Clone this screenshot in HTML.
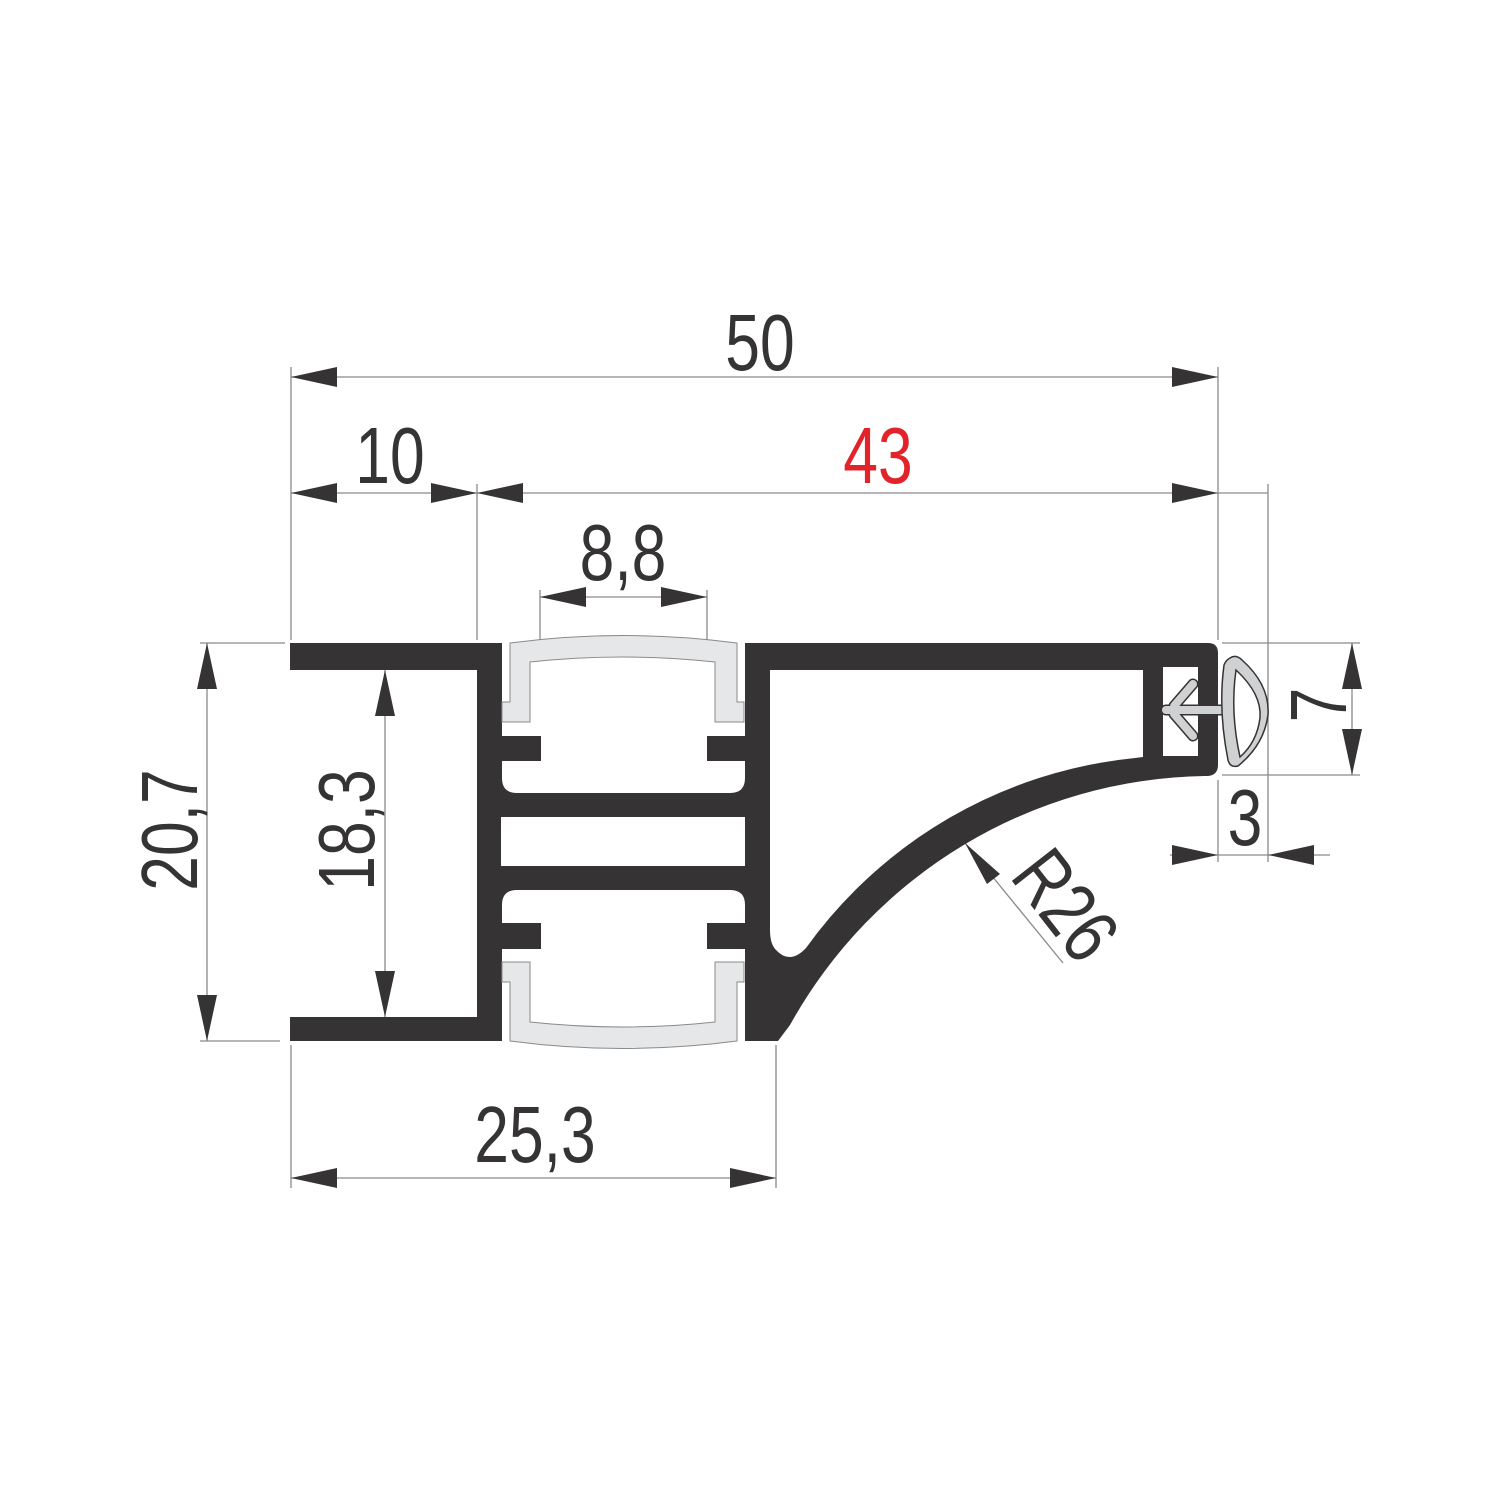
<!DOCTYPE html>
<html><head><meta charset="utf-8"><style>html,body{margin:0;padding:0;background:#fff}svg{display:block}</style></head>
<body>
<svg width="1500" height="1500" viewBox="0 0 1500 1500" xmlns="http://www.w3.org/2000/svg">
<rect width="1500" height="1500" fill="#fff"/>
<g stroke="#8a8a8a" stroke-width="1.3" fill="none">
<line x1="291" y1="367" x2="291" y2="640"/>
<line x1="1218" y1="367" x2="1218" y2="640"/>
<line x1="477" y1="484" x2="477" y2="640"/>
<line x1="1268" y1="484" x2="1268" y2="862"/>
<line x1="1218" y1="780" x2="1218" y2="862"/>
<line x1="291" y1="377" x2="1218" y2="377"/>
<line x1="291" y1="493" x2="1268" y2="493"/>
<line x1="540" y1="590" x2="540" y2="720"/>
<line x1="707" y1="590" x2="707" y2="720"/>
<line x1="540" y1="597" x2="707" y2="597"/>
<line x1="200" y1="643" x2="285" y2="643"/>
<line x1="200" y1="1041" x2="280" y2="1041"/>
<line x1="207" y1="643" x2="207" y2="1041"/>
<line x1="385" y1="670" x2="385" y2="1017"/>
<line x1="1222" y1="643" x2="1360" y2="643"/>
<line x1="1222" y1="775" x2="1360" y2="775"/>
<line x1="1352" y1="643" x2="1352" y2="775"/>
<line x1="1170" y1="855" x2="1330" y2="855"/>
<line x1="291" y1="1045" x2="291" y2="1188"/>
<line x1="776" y1="1045" x2="776" y2="1188"/>
<line x1="291" y1="1178" x2="776" y2="1178"/>
<line x1="965" y1="843" x2="1063" y2="963"/>
</g>
<g fill="#353334">
<polygon points="291,377 337,367 337,387"/>
<polygon points="1218,377 1172,367 1172,387"/>
<polygon points="291,493 337,483 337,503"/>
<polygon points="477,493 431,483 431,503"/>
<polygon points="477,493 523,483 523,503"/>
<polygon points="1218,493 1172,483 1172,503"/>
<polygon points="540,597 586,587 586,607"/>
<polygon points="707,597 661,587 661,607"/>
<polygon points="207,643 197,689 217,689"/>
<polygon points="207,1041 197,995 217,995"/>
<polygon points="385,670 375,716 395,716"/>
<polygon points="385,1017 375,971 395,971"/>
<polygon points="1352,643 1342,689 1362,689"/>
<polygon points="1352,775 1342,729 1362,729"/>
<polygon points="1218,855 1172,845 1172,865"/>
<polygon points="1268,855 1314,845 1314,865"/>
<polygon points="291,1178 337,1168 337,1188"/>
<polygon points="776,1178 730,1168 730,1188"/>
<polygon points="965,843 987,884 1000,874"/>
</g>
<g fill="#353334">
<rect x="290" y="643" width="212" height="27"/>
<rect x="290" y="1017" width="212" height="24"/>
<path d="M477,643 H1208 Q1218,643 1218,653 V765 Q1218,775 1208,776 L1205,776 A483,483 0 0 0 790,1025 L778,1041 H477 Z"/>
</g>
<g fill="#fff">
<path d="M770,670 H1143 V757 L1135,758 A461,461 0 0 0 806,948 Q790,965 776,950 Q770,944 770,930 Z"/>
<rect x="1163" y="667" width="35" height="89"/>
<path d="M502,643 H745 V778 Q745,793 730,793 H517 Q502,793 502,778 Z"/>
<path d="M502,1041 H745 V905 Q745,890 730,890 H517 Q502,890 502,905 Z"/>
<rect x="501" y="817" width="244" height="49"/>
</g>
<g fill="#353334">
<rect x="502" y="736" width="39" height="25"/>
<rect x="707" y="736" width="38" height="25"/>
<rect x="502" y="923" width="39" height="26"/>
<rect x="707" y="923" width="38" height="26"/>
</g>
<g fill="#e6e7e8" stroke="#8a8a8a" stroke-width="1">
<path d="M510,643 Q623,628 737,643 V702 H744 V722 H715 V662 Q623,652 530,662 V722 H502 V702 H510 Z"/>
<path d="M510,1041 Q623,1056 737,1041 V982 H744 V962 H715 V1022 Q623,1032 530,1022 V962 H502 V982 H510 Z"/>
</g>
<!-- T clip -->
<g stroke-linecap="round" fill="none">
<g stroke="#353334" stroke-width="11">
<line x1="1166" y1="710" x2="1222" y2="710"/>
<line x1="1174" y1="706" x2="1193" y2="684"/>
<line x1="1174" y1="714" x2="1193" y2="736"/>
</g>
<g stroke="#d0d1d3" stroke-width="8">
<line x1="1166" y1="710" x2="1222" y2="710"/>
<line x1="1174" y1="706" x2="1193" y2="684"/>
<line x1="1174" y1="714" x2="1193" y2="736"/>
</g>
</g>
<!-- seal -->
<g stroke="#353334" stroke-width="1.5">
<path d="M1230,658 Q1236,654 1242,660 Q1270,685 1268,715 Q1264,745 1238,766 Q1230,768 1228,760 Q1218,710 1224,665 Q1226,660 1230,658 Z" fill="#d0d1d3"/>
<path d="M1236,670 Q1262,694 1260,718 Q1257,742 1240,757 Q1230,712 1236,670 Z" fill="#fff"/>
</g>
<g font-family="'Liberation Sans', sans-serif" font-size="80" fill="#353334" text-anchor="middle">
<g transform="translate(760,370) scale(0.78,1)"><text x="0" y="0">50</text></g>
<g transform="translate(390,483) scale(0.78,1)"><text x="0" y="0">10</text></g>
<g transform="translate(878,483) scale(0.78,1)"><text x="0" y="0" fill="#e2232a">43</text></g>
<g transform="translate(623,580) scale(0.78,1)"><text x="0" y="0">8,8</text></g>
<g transform="translate(535,1162) scale(0.78,1)"><text x="0" y="0">25,3</text></g>
<g transform="translate(1245,845) scale(0.78,1)"><text x="0" y="0">3</text></g>
<g transform="translate(197,830) rotate(-90) scale(0.78,1)"><text x="0" y="0">20,7</text></g>
<g transform="translate(374,830) rotate(-90) scale(0.78,1)"><text x="0" y="0">18,3</text></g>
<g transform="translate(1346,705) rotate(-90) scale(0.78,1)"><text x="0" y="0">7</text></g>
<g transform="translate(1044,922) rotate(52) scale(0.78,1)"><text x="0" y="0">R26</text></g>
</g>
</svg>
</body></html>
